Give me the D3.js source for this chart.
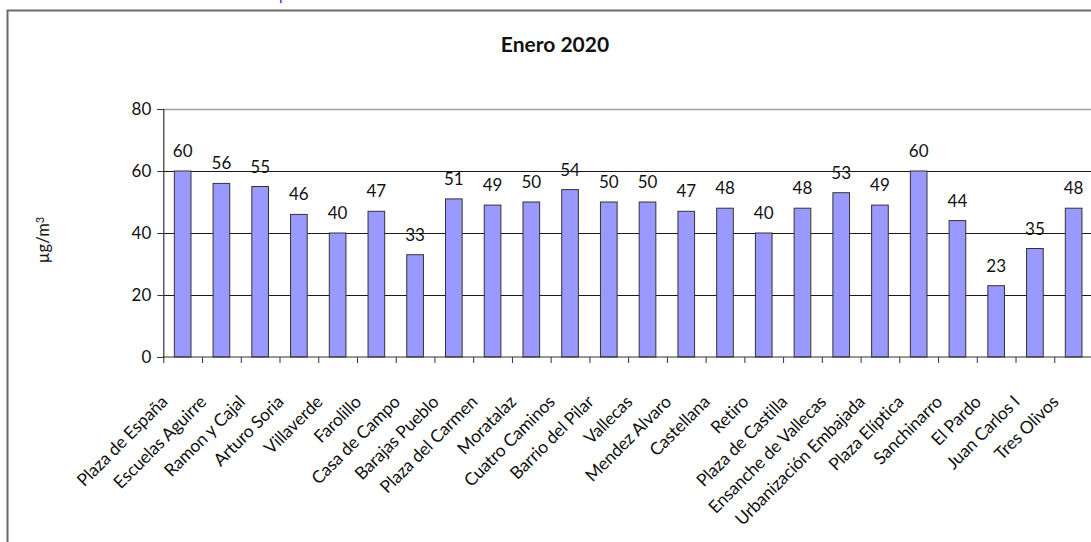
<!DOCTYPE html>
<html>
<head>
<meta charset="utf-8">
<script src="https://cdn.jsdelivr.net/npm/d3@7"></script>
<style>
  html, body { margin: 0; padding: 0; background: #fff; }
  svg { display: block; }
  text { font-family: Lato, "Open Sans", sans-serif; fill: #111; }
</style>
</head>
<body>
<svg id="chart" width="1091" height="542"></svg>
<script>
// Estaciones de medición y su valor medio de enero de 2020 (µg/m³)
const stations = [
  "Plaza de España", "Escuelas Aguirre", "Ramon y Cajal", "Arturo Soria",
  "Villaverde", "Farolillo", "Casa de Campo", "Barajas Pueblo",
  "Plaza del Carmen", "Moratalaz", "Cuatro Caminos", "Barrio del Pilar",
  "Vallecas", "Mendez Alvaro", "Castellana", "Retiro",
  "Plaza de Castilla", "Ensanche de Vallecas", "Urbanización Embajada", "Plaza Elíptica",
  "Sanchinarro", "El Pardo", "Juan Carlos I", "Tres Olivos"
];
const values = [
  60, 56, 55, 46,
  40, 47, 33, 51,
  49, 50, 54, 50,
  50, 47, 48, 40,
  48, 53, 49, 60,
  44, 23, 35, 48
];
const yTicks = [0, 20, 40, 60, 80];
const title = "Enero 2020";

const svg = d3.select("#chart");

// Marco exterior del gráfico
svg.append("rect")
  .attr("x", 7.5).attr("y", 10.5)
  .attr("width", 1200).attr("height", 600)
  .attr("fill", "none").attr("stroke", "#6a6a6a").attr("stroke-width", 2);

// Resto del encabezado de la página, cortado por el borde superior
svg.append("text")
  .attr("x", 279).attr("y", 0)
  .style("font-size", "16px").style("fill", "#3a3ac8")
  .text("p");

const plot = { left: 163.3, right: 1093, top: 109, bottom: 357 };

const x = d3.scaleBand()
  .domain(stations)
  .range([plot.left, plot.right])
  .paddingInner(0)
  .paddingOuter(0);

const y = d3.scaleLinear()
  .domain([0, 80])
  .range([plot.bottom, plot.top]);

const barW = x.bandwidth() * 0.43;
const data = stations.map((s, i) => ({ s, v: values[i] }));

// Título
svg.append("text")
  .attr("x", 555).attr("y", 52)
  .attr("text-anchor", "middle")
  .style("font-size", "21px").style("font-weight", "bold")
  .text(title);

// Líneas de división horizontales
svg.append("g")
  .selectAll("line")
  .data(yTicks.filter(d => d > 0))
  .join("line")
  .attr("x1", plot.left).attr("x2", plot.right)
  .attr("y1", d => Math.round(y(d)) + 0.5).attr("y2", d => Math.round(y(d)) + 0.5)
  .attr("stroke", d => d === 80 ? "#a0a0a0" : "#1a1a1a")
  .attr("stroke-width", d => d === 80 ? 1.5 : 1.2);

// Barras
svg.append("g")
  .selectAll("rect")
  .data(data)
  .join("rect")
  .attr("x", d => x(d.s) + (x.bandwidth() - barW) / 2)
  .attr("y", d => y(d.v))
  .attr("width", barW)
  .attr("height", d => y(0) - y(d.v))
  .attr("fill", "#9999ff")
  .attr("stroke", "#333")
  .attr("stroke-width", 1);

// Etiquetas de valor
svg.append("g")
  .selectAll("text")
  .data(data)
  .join("text")
  .attr("x", d => x(d.s) + x.bandwidth() / 2)
  .attr("y", d => y(d.v) - 14)
  .attr("text-anchor", "middle")
  .style("font-size", "17px")
  .text(d => d.v);

// Eje Y
const yAxis = d3.axisLeft(y).tickValues(yTicks).tickSize(6).tickPadding(6).tickFormat(d3.format("d"));
const gy = svg.append("g")
  .attr("transform", `translate(${plot.left},0)`)
  .call(yAxis);
gy.select(".domain").attr("stroke", "#333").attr("stroke-width", 1.2);
gy.selectAll(".tick line").attr("stroke", "#333");
gy.selectAll(".tick text")
  .style("font-size", "17px").style("font-family", "Lato, sans-serif").attr("fill", "#111");

// Eje X: línea base y marcas entre categorías
svg.append("line")
  .attr("x1", plot.left).attr("x2", plot.right)
  .attr("y1", y(0)).attr("y2", y(0))
  .attr("stroke", "#333").attr("stroke-width", 1.2);

svg.append("g")
  .selectAll("line")
  .data(stations)
  .join("line")
  .attr("x1", d => x(d) + 0.5).attr("x2", d => x(d) + 0.5)
  .attr("y1", y(0)).attr("y2", y(0) + 6)
  .attr("stroke", "#333");

// Etiquetas de categoría giradas
svg.append("g")
  .selectAll("text")
  .data(stations)
  .join("text")
  .attr("transform", d => `translate(${x(d) + x.bandwidth() / 2 - 14},${403}) rotate(-45)`)
  .attr("text-anchor", "end")
  .style("font-size", "17.5px")
  .style("letter-spacing", "-0.2px")
  .text(d => d);

// Título del eje Y
const yt = svg.append("text")
  .attr("transform", "translate(49,240) rotate(-90)")
  .attr("text-anchor", "middle")
  .style("font-size", "16.5px");
yt.append("tspan").text("µg/m");
yt.append("tspan").attr("dy", "-0.5em").style("font-size", "11px").text("3");
</script>
</body>
</html>
